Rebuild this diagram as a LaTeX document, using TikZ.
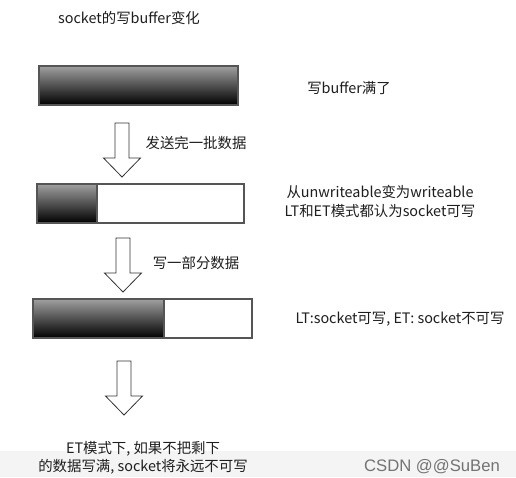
\documentclass[tikz,border=0pt]{standalone}
\usepackage{fontspec}
\setmainfont{Noto Sans CJK SC}
\newfontfamily\wmfont{Liberation Sans}
\definecolor{txt}{HTML}{1E1E1E}
\definecolor{bartop}{HTML}{A0A0A0}
\definecolor{barline}{HTML}{555555}
\definecolor{band}{HTML}{F4F4F4}
\begin{document}
\begin{tikzpicture}[x=0.75pt,y=-0.75pt,
  lbl/.style={text=txt,font=\fontsize{10.8}{14}\selectfont,inner sep=0pt,align=center},
  full/.style={top color=bartop,bottom color=black,draw=barline,line width=0.8pt},
  empty/.style={fill=white,draw=barline,line width=0.8pt},
  hollow/.pic={\draw[line width=0.6pt,draw=black!80,fill=white] (-7,0) -- (-7,35) -- (-18.5,35) -- (0,54) -- (18.5,35) -- (7,35) -- (7,0) -- cycle;}]
\useasboundingbox (0,0) rectangle (516,477);
\fill[white] (0,0) rectangle (516,477);
\fill[band] (0,451) rectangle (516,477);
% title
\node[lbl] (title) at (129,18) {socket的写buffer变化};
% bar 1
\path[full] (39,66) rectangle (238,105);
\node[lbl] (t1) at (349,88) {写buffer满了};
% arrow 1
\pic at (122,123) {hollow};
\node[lbl] (a1) at (196,143) {发送完一批数据};
% bar 2
\path[empty] (37,184) rectangle (244,223);
\path[full] (37,184) rectangle (97,223);
\node[lbl,font=\fontsize{10.8}{14.3}\selectfont] (t2) at (380,201.5) {从unwriteable变为writeable\\LT和ET模式都认为socket可写};
% arrow 2
\pic at (123,238) {hollow};
\node[lbl] (a2) at (196,263) {写一部分数据};
% bar 3
\path[empty] (33,299) rectangle (252,338);
\path[full] (33,299) rectangle (164,338);
\node[lbl] (t3) at (400,319) {LT:socket可写, ET: socket不可写};
% arrow 3
\pic at (124,361) {hollow};
\node[lbl,font=\fontsize{10.8}{13.5}\selectfont] (t4) at (143,458) {ET模式下, 如果不把剩下\\的数据写满, socket将永远不可写};
% watermark
\node[inner sep=0pt,text=black!55,font=\wmfont\fontsize{12.5}{14}\selectfont] (wm) at (432,467) {CSDN @@SuBen};
\end{tikzpicture}
\end{document}
